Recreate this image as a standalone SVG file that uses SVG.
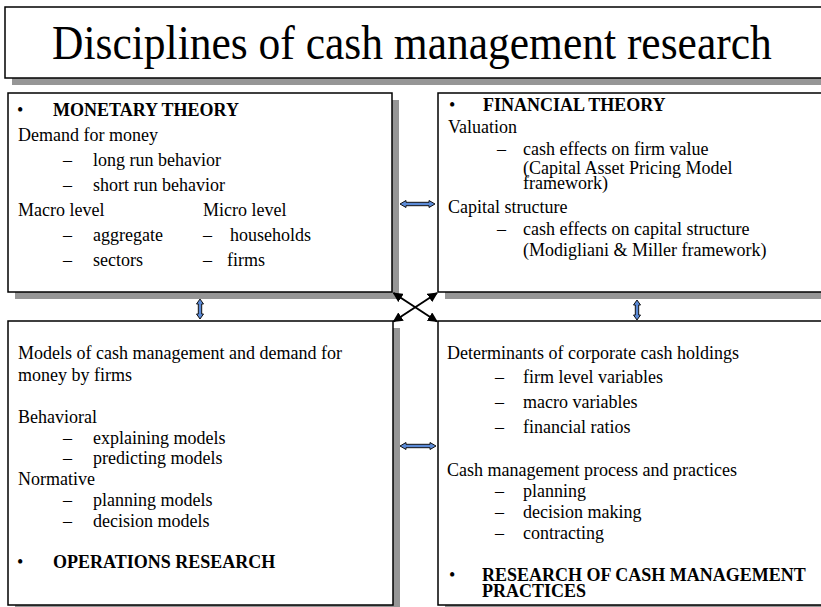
<svg xmlns="http://www.w3.org/2000/svg" width="821" height="607" viewBox="0 0 821 607">
  <style>
    .box { fill: #ffffff; stroke: #000000; stroke-width: 1.5; }
    .shadow { fill: #969696; stroke: none; }
    text { font-family: "Liberation Serif", "Times New Roman", serif; font-size: 18px; fill: #000000; }
    .title { font-size: 43.5px; }
    .head { font-weight: bold; }
    .blue { fill: #5b8ad6; stroke: #111111; stroke-width: 1; stroke-linejoin: miter; }
    .cross { stroke: #000000; stroke-width: 2; fill: none; marker-start: url(#tip); marker-end: url(#tip); }
  </style>
  <defs>
    <marker id="tip" viewBox="0 0 10 10" refX="9" refY="5" markerWidth="5" markerHeight="5" orient="auto-start-reverse" markerUnits="strokeWidth">
      <path d="M0,0 L10,5 L0,10 z" fill="#000000"/>
    </marker>
  </defs>

  <rect width="821" height="607" fill="#ffffff"/>

  <!-- Title banner -->
  <g id="title">
    <rect class="shadow" x="12" y="14" width="830" height="71"/>
    <rect class="box" x="5" y="7" width="830" height="71"/>
    <text class="title" x="52" y="59" transform="translate(0,-5.9) scale(1,1.1)">Disciplines of cash management research</text>
  </g>

  <!-- Monetary theory -->
  <g id="monetary-theory">
    <rect class="shadow" x="15" y="100" width="384" height="199"/>
    <rect class="box" x="8" y="93" width="384" height="199"/>
    <text x="17" y="116">•</text>
    <text class="head" x="53" y="116">MONETARY THEORY</text>
    <text x="18" y="141">Demand for money</text>
    <text x="63" y="166">–</text>
    <text x="93" y="166">long run behavior</text>
    <text x="63" y="191">–</text>
    <text x="93" y="191">short run behavior</text>
    <text x="18" y="216">Macro level</text>
    <text x="203" y="216">Micro level</text>
    <text x="63" y="241">–</text>
    <text x="93" y="241">aggregate</text>
    <text x="203" y="241">–</text>
    <text x="230" y="241">households</text>
    <text x="63" y="266">–</text>
    <text x="93" y="266">sectors</text>
    <text x="203" y="266">–</text>
    <text x="227" y="266">firms</text>
  </g>

  <!-- Financial theory -->
  <g id="financial-theory">
    <rect class="shadow" x="445" y="100" width="400" height="199"/>
    <rect class="box" x="438" y="93" width="400" height="199"/>
    <text x="449" y="111">•</text>
    <text class="head" x="483" y="111">FINANCIAL THEORY</text>
    <text x="448" y="133">Valuation</text>
    <text x="497" y="155">–</text>
    <text x="523" y="155">cash effects on firm value</text>
    <text x="523" y="174">(Capital Asset Pricing Model</text>
    <text x="523" y="189">framework)</text>
    <text x="448" y="213">Capital structure</text>
    <text x="497" y="235">–</text>
    <text x="523" y="235">cash effects on capital structure</text>
    <text x="523" y="256">(Modigliani &amp; Miller framework)</text>
  </g>

  <!-- Operations research -->
  <g id="operations-research">
    <rect class="shadow" x="15" y="328" width="385" height="284"/>
    <rect class="box" x="8" y="321" width="385" height="284"/>
    <text x="18" y="359">Models of cash management and demand for</text>
    <text x="18" y="381">money by firms</text>
    <text x="18" y="423">Behavioral</text>
    <text x="63" y="444">–</text>
    <text x="93" y="444">explaining models</text>
    <text x="63" y="464">–</text>
    <text x="93" y="464">predicting models</text>
    <text x="18" y="485">Normative</text>
    <text x="63" y="506">–</text>
    <text x="93" y="506">planning models</text>
    <text x="63" y="527">–</text>
    <text x="93" y="527">decision models</text>
    <text x="17" y="568">•</text>
    <text class="head" x="53" y="568">OPERATIONS RESEARCH</text>
  </g>

  <!-- Research of cash management practices -->
  <g id="practices-research">
    <rect class="shadow" x="445" y="328" width="400" height="284"/>
    <rect class="box" x="438" y="321" width="400" height="284"/>
    <text x="447" y="359">Determinants of corporate cash holdings</text>
    <text x="495" y="383">–</text>
    <text x="523" y="383">firm level variables</text>
    <text x="495" y="408">–</text>
    <text x="523" y="408">macro variables</text>
    <text x="495" y="433">–</text>
    <text x="523" y="433">financial ratios</text>
    <text x="447" y="476">Cash management process and practices</text>
    <text x="495" y="497">–</text>
    <text x="523" y="497">planning</text>
    <text x="495" y="518">–</text>
    <text x="523" y="518">decision making</text>
    <text x="495" y="539">–</text>
    <text x="523" y="539">contracting</text>
    <text x="449" y="581">•</text>
    <text class="head" x="482" y="581">RESEARCH OF CASH MANAGEMENT</text>
    <text class="head" x="482" y="597">PRACTICES</text>
  </g>

  <!-- Connectors -->
  <g id="connectors">
    <polygon class="blue" points="400,204 406,200.5 406,202.3 429,202.3 429,200.5 435,204 429,207.5 429,205.7 406,205.7 406,207.5"/>
    <polygon class="blue" points="400,446 406,442.5 406,444.3 430,444.3 430,442.5 436,446 430,449.5 430,447.7 406,447.7 406,449.5"/>
    <polygon class="blue" points="200,299 203.5,304 201.7,304 201.7,314 203.5,314 200,319 196.5,314 198.3,314 198.3,304 196.5,304"/>
    <polygon class="blue" points="637,300 640.5,305 638.7,305 638.7,315 640.5,315 637,320 633.5,315 635.3,315 635.3,305 633.5,305"/>
    <line class="cross" x1="393.5" y1="293" x2="437" y2="321.5"/>
    <line class="cross" x1="437" y1="293" x2="393.5" y2="321.5"/>
  </g>
</svg>
